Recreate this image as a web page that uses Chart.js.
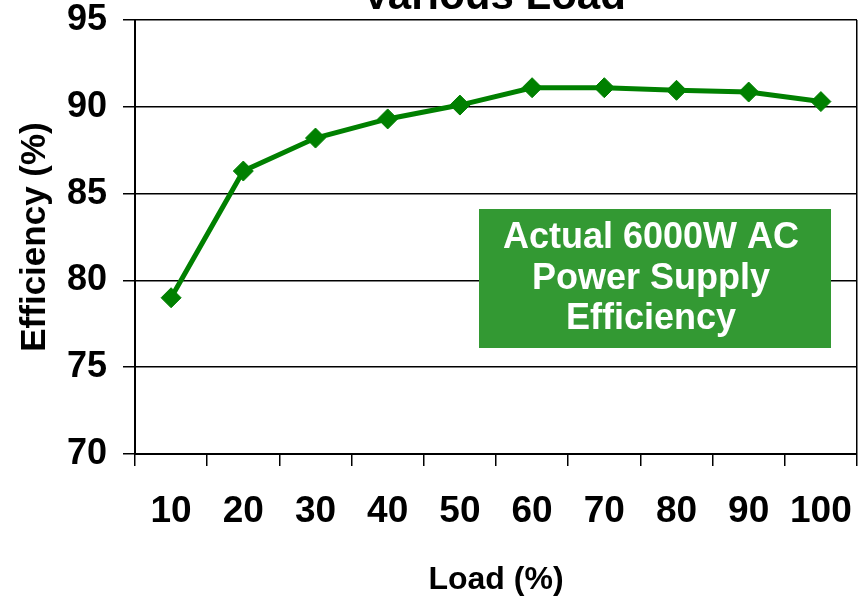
<!DOCTYPE html>
<html>
<head>
<meta charset="utf-8">
<script src="https://cdn.jsdelivr.net/npm/chart.js@4.4.1/dist/chart.umd.min.js"></script>
<style>
    html, body { margin: 0; padding: 0; background: #fff; overflow: hidden; }
    #wrap { width: 858px; height: 602px; }
    canvas { display: block; }
</style>
</head>
<body>
<div id="wrap"><canvas id="effChart" width="858" height="602"></canvas></div>
<script>
const loads = ["10", "20", "30", "40", "50", "60", "70", "80", "90", "100"];
const efficiency = [79.0, 86.3, 88.2, 89.3, 90.1, 91.1, 91.1, 90.95, 90.85, 90.3];
const boxLines = ["Actual 6000W AC", "Power Supply", "Efficiency"];
const chartTitle = "Various Load";

const FONT = "'Liberation Sans', Arial, sans-serif";

// no extra label padding, the plot box is fixed
function noPad(s) {
    s.paddingLeft = 0;
    s.paddingRight = 0;
    s.paddingTop = 0;
    s.paddingBottom = 0;
}

// title is cut off by the top edge, plus the green note box
const extras = {
    id: "extras",
    afterDraw(chart) {
        const c = chart.ctx;
        const a = chart.chartArea;
        c.save();
        c.fillStyle = "#000";
        c.font = "bold 42px " + FONT;
        c.textAlign = "center";
        c.textBaseline = "alphabetic";
        c.fillText(chartTitle, 494, 9);

        const x0 = a.left + 344, y0 = a.top + 189;
        c.fillStyle = "#339933";
        c.fillRect(x0, y0, 352, 139);
        c.fillStyle = "#fff";
        c.font = "bold 36px " + FONT;
        boxLines.forEach((t, i) => {
            c.fillText(t, x0 + 172, y0 + 39 + i * 40.5);
        });
        c.restore();
    }
};

document.addEventListener("DOMContentLoaded", function () {
    const ctx = document.getElementById("effChart").getContext("2d");

    new Chart(ctx, {
        type: "line",
        data: {
            labels: loads,
            datasets: [{
                label: "Efficiency",
                data: efficiency,
                borderColor: "#008000",
                backgroundColor: "#008000",
                borderWidth: 5,
                tension: 0,
                fill: false,
                clip: false,
                pointStyle: "rectRot",
                pointRadius: 10,
                pointBorderWidth: 1,
                pointBackgroundColor: "#008000",
                pointBorderColor: "#008000"
            }]
        },
        plugins: [extras],
        options: {
            responsive: false,
            animation: false,
            layout: { autoPadding: false, padding: { top: 20, right: 1, left: 0, bottom: 0 } },
            plugins: {
                legend: { display: false },
                tooltip: { enabled: false }
            },
            scales: {
                x: {
                    offset: true,
                    afterFit: s => { s.height = 148; noPad(s); },
                    grid: {
                        offset: true,
                        drawOnChartArea: true,
                        color: c => (c.tick ? "rgba(0,0,0,0)" : "#000"),
                        tickColor: "#000",
                        tickLength: 12,
                        lineWidth: 1.5
                    },
                    border: { display: true, color: "#000", width: 2 },
                    ticks: {
                        color: "#000",
                        padding: 24,
                        maxRotation: 0,
                        font: { family: FONT, size: 37, weight: "bold" }
                    },
                    title: {
                        display: true,
                        text: "Load (%)",
                        color: "#000",
                        padding: { top: 0, bottom: 3 },
                        font: { family: FONT, size: 32, weight: "bold" }
                    }
                },
                y: {
                    min: 70,
                    max: 95,
                    afterFit: s => { s.width = 135; noPad(s); },
                    grid: {
                        color: "#000",
                        lineWidth: 1.5,
                        tickLength: 12
                    },
                    border: { display: true, color: "#000", width: 2 },
                    ticks: {
                        stepSize: 5,
                        color: "#000",
                        padding: 16,
                        font: { family: FONT, size: 36, weight: "bold", lineHeight: 1 }
                    },
                    title: {
                        display: true,
                        text: "Efficiency (%)",
                        color: "#000",
                        padding: { top: 14, bottom: 0 },
                        font: { family: FONT, size: 35, weight: "bold" }
                    }
                }
            }
        }
    });
});
</script>
</body>
</html>
